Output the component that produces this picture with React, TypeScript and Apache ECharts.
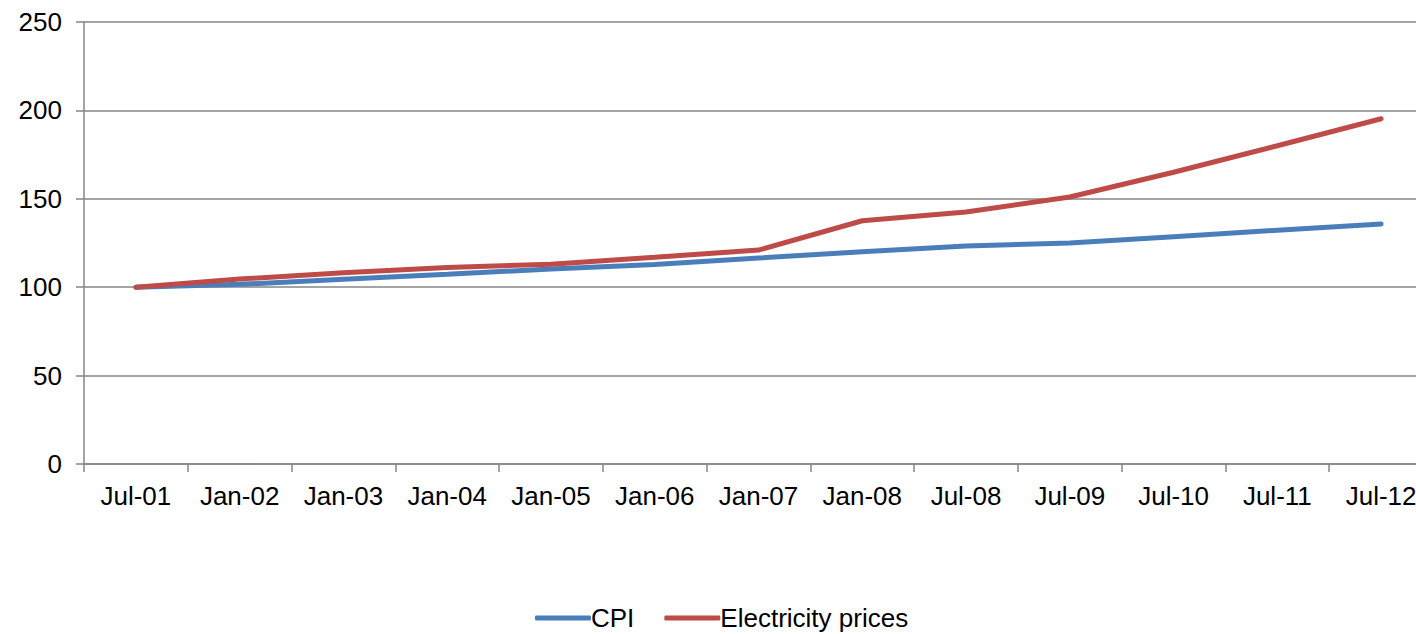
import React, { useEffect, useRef } from "react";
import * as echarts from "echarts";

const categories = ["Jul-01", "Jan-02", "Jan-03", "Jan-04", "Jan-05", "Jan-06", "Jan-07", "Jan-08", "Jul-08", "Jul-09", "Jul-10", "Jul-11", "Jul-12"];
const cpi = [100, 101.6, 104.5, 107.3, 110.3, 112.8, 116.5, 120, 123.3, 125, 128.6, 132.2, 135.8];
const electricity = [100, 104.6, 108.2, 111.2, 113, 116.9, 121, 137.6, 142.5, 151, 165, 180, 195.3];
const yTicks = { min: 0, max: 250, interval: 50 };

export default function App() {
  const ref = useRef<HTMLDivElement>(null);
  useEffect(() => {
    if (!ref.current) return;
    const chart = echarts.init(ref.current, null, { renderer: "svg" });
    const font = "Liberation Sans, Arial, sans-serif";
    chart.setOption({
      animation: false,
      backgroundColor: "#ffffff",
      grid: { left: 84, right: 0, top: 22, bottom: 170, containLabel: false },
      xAxis: {
        type: "category",
        data: categories,
        boundaryGap: true,
        axisLine: { lineStyle: { color: "#868686", width: 1.5 } },
        axisTick: { show: true, length: 8, lineStyle: { color: "#868686", width: 1.5 } },
        axisLabel: { color: "#000", fontSize: 26, fontFamily: font, margin: 19, interval: 0 },
        splitLine: { show: false },
      },
      yAxis: {
        type: "value",
        min: yTicks.min,
        max: yTicks.max,
        interval: yTicks.interval,
        axisLine: { show: true, lineStyle: { color: "#868686", width: 1.5 } },
        axisTick: { show: true, length: 8, lineStyle: { color: "#868686", width: 1.5 } },
        axisLabel: { color: "#000", fontSize: 26, fontFamily: font, margin: 22 },
        splitLine: { show: true, lineStyle: { color: "#868686", width: 1.5 } },
      },
      legend: {
        data: ["CPI", "Electricity prices"],
        left: 530,
        top: 600,
        icon: "roundRect",
        itemWidth: 56,
        itemHeight: 5,
        itemGap: 30,
        textStyle: { color: "#000", fontSize: 26, fontFamily: font, padding: [0, 0, 0, -5] },
      },
      series: [
        {
          name: "CPI",
          type: "line",
          data: cpi,
          symbol: "none",
          lineStyle: { color: "#4A7EBB", width: 5, cap: "round" },
          itemStyle: { color: "#4A7EBB" },
        },
        {
          name: "Electricity prices",
          type: "line",
          data: electricity,
          symbol: "none",
          lineStyle: { color: "#BE4B48", width: 5, cap: "round" },
          itemStyle: { color: "#BE4B48" },
        },
      ],
    });
    return () => chart.dispose();
  }, []);
  return (
    <div
      ref={ref}
      style={{ position: "fixed", left: 0, top: 0, width: 1433, height: 634, overflow: "hidden" }}
    />
  );
}
